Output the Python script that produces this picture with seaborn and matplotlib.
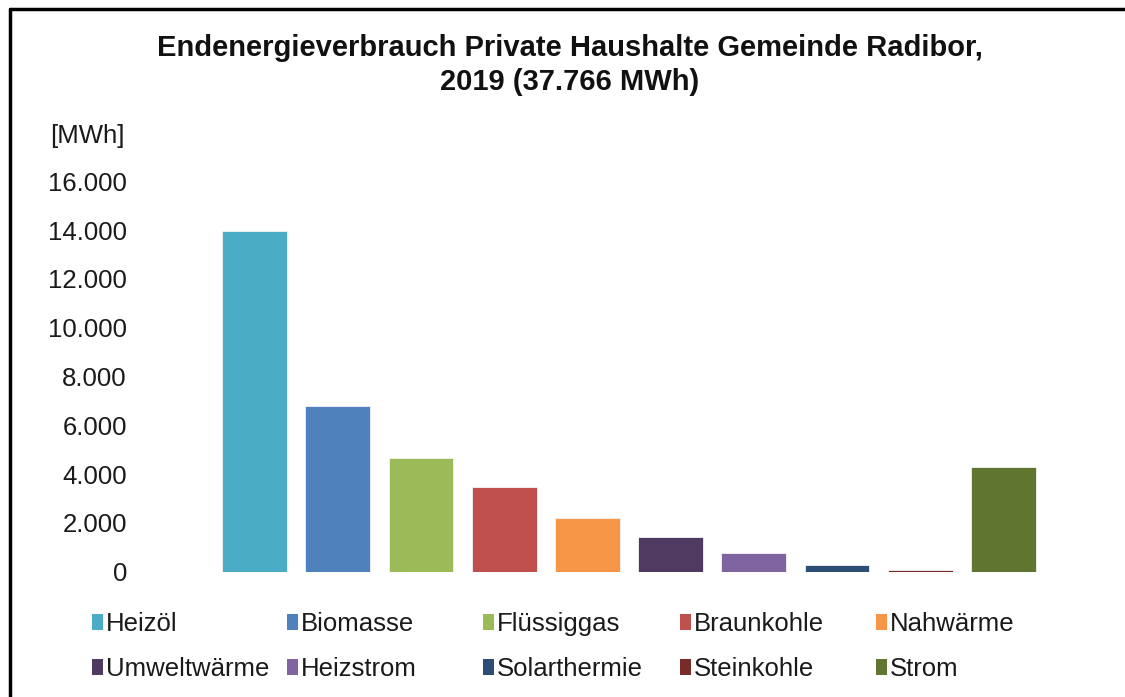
import matplotlib
matplotlib.use("Agg")
import matplotlib.pyplot as plt
import seaborn as sns
import pandas as pd
from matplotlib.patches import Patch
from matplotlib.lines import Line2D
from matplotlib.ticker import FuncFormatter

# ---- data ----
categories = ["Heizöl", "Biomasse", "Flüssiggas", "Braunkohle", "Nahwärme",
              "Umweltwärme", "Heizstrom", "Solarthermie", "Steinkohle", "Strom"]
values = [13950, 6800, 4660, 3450, 2190, 1400, 770, 250, 60, 4290]
colors = ["#4BACC6", "#4F81BD", "#9BBB59", "#C0504D", "#F79646",
          "#4F3B62", "#8064A2", "#2C4D75", "#772C2A", "#5F7530"]
y_ticks = [0, 2000, 4000, 6000, 8000, 10000, 12000, 14000, 16000]
title = "Endenergieverbrauch Private Haushalte Gemeinde Radibor,\n2019 (37.766 MWh)"
unit_label = "[MWh]"

sns.set_theme(style="white")
plt.rcParams["font.family"] = ["Liberation Sans", "DejaVu Sans"]

W, H = 1125, 697
fig = plt.figure(figsize=(W / 100, H / 100), dpi=100)
fig.patch.set_facecolor("white")

ax_left, ax_right = 213, 1045
ax_top, ax_bottom = 181.5, 571.5
ax = fig.add_axes([ax_left / W, 1 - ax_bottom / H, (ax_right - ax_left) / W, (ax_bottom - ax_top) / H])

df = pd.DataFrame({"Kategorie": categories, "Wert": values})
sns.barplot(data=df, x="Kategorie", y="Wert", hue="Kategorie", palette=colors,
            order=categories, hue_order=categories, width=0.78, legend=False,
            edgecolor="#f4f4f4", linewidth=0.6, ax=ax, saturation=1)

ax.set_ylim(0, 16000)
ax.set_yticks(y_ticks)
ax.yaxis.set_major_formatter(FuncFormatter(lambda v, p: f"{int(v):,}".replace(",", ".")))
ax.set_xticks([])
ax.set_xlabel("")
ax.set_ylabel("")
for s in ax.spines.values():
    s.set_visible(False)
ax.tick_params(axis="y", length=0, pad=62, labelsize=18.5, colors="#1a1a1a")
ax.grid(False)

# unit label
fig.text(125 / W, 1 - 136 / H, unit_label, ha="right", va="center", fontsize=18.5, color="#1a1a1a")

# title
fig.text(570 / W, 1 - 65 / H, title, ha="center", va="center", fontsize=21,
         fontweight="bold", color="#111111", linespacing=1.3)

# legend: 5 columns, 2 rows
col_x = [92, 287, 483, 680, 876]
for c in range(5):
    idx = [c, c + 5]
    handles = [Patch(facecolor=colors[i], edgecolor="none") for i in idx]
    labels = [categories[i] for i in idx]
    fig.legend(handles, labels, loc="upper left",
               bbox_to_anchor=(col_x[c] / W, 1 - 612 / H),
               frameon=False, fontsize=18.5, handlelength=0.42, handleheight=0.55,
               handletextpad=0.12, labelspacing=0.82, borderpad=0, borderaxespad=0,
               labelcolor="#1a1a1a")

# border lines (left and top)
fig.add_artist(Line2D([9.5 / W, 9.5 / W], [0, 1 - 9 / H], color="black", linewidth=2.5,
                      transform=fig.transFigure))
fig.add_artist(Line2D([9.5 / W, 1], [1 - 9 / H, 1 - 9 / H], color="black", linewidth=2.5,
                      transform=fig.transFigure))

fig.savefig("out.png", dpi=100, facecolor="white")
